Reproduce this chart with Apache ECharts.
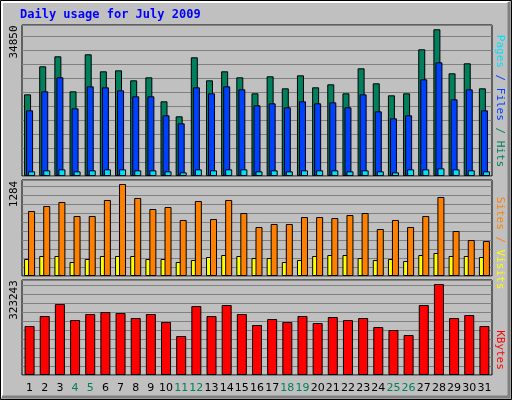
<!DOCTYPE html>
<html>
<head>
<meta charset="utf-8">
<script src="https://cdn.jsdelivr.net/npm/echarts@6/dist/echarts.min.js"></script>
<style>html,body{margin:0;padding:0;background:#c0c0c0}#chart{width:512px;height:400px}</style>
</head>
<body>
<div id="chart"></div>
<script>
// days of July 2009, weekends drawn in green
var days = ['1','2','3','4','5','6','7','8','9','10','11','12','13','14','15','16','17','18','19','20','21','22','23','24','25','26','27','28','29','30','31'];
var weekends = ['4','5','11','12','18','19','25','26'];

var hits   = [19404,26057,28433,20117,28908,24869,25106,22730,23443,17741,14177,28195,22730,24869,23443,19642,23681,20830,23918,21067,21780,19642,25582,22018,19166,19642,30096,34850,24394,26770,20830];
var files  = [15602,20117,23443,16078,21305,21067,20354,18929,18929,14414,12514,21067,19642,21305,20592,16790,17266,16315,17741,17266,17503,16315,19404,15365,13702,14414,22968,27007,18216,20592,15602];
var pages  = [1109,1346,1584,1109,1346,1584,1584,1346,1346,1109,871,1584,1346,1584,1584,1109,1346,1109,1346,1346,1346,1109,1346,1109,871,1584,1584,1822,1584,1346,1109];

var visits = [907,977,1033,837,837,1061,1284,1089,935,963,782,1047,795,1061,879,684,726,726,823,823,809,851,879,656,782,684,837,1103,628,502,488];
var sites  = [237,279,279,195,237,279,279,279,237,237,195,223,265,293,279,251,251,195,223,279,293,293,251,223,237,209,293,321,279,279,265];

var kbytes = [174048,209568,252192,195360,216672,223776,220224,202464,216672,188256,138528,245088,209568,248640,216672,177600,198912,188256,209568,184704,206016,195360,202464,170496,159840,142080,248640,323243,202464,213120,174048];

var myChart = echarts.init(document.getElementById('chart'));

function yAx(idx, max, interval) {
		return {
				gridIndex : idx, min : 0, max : max, interval : interval,
				axisLabel : {show : false}, axisLine : {show : false}, axisTick : {show : false},
				splitLine : {lineStyle : {color : '#808080', width : 1}}
		};
}
function xAx(idx, showLabel) {
		return {
				gridIndex : idx, type : 'category', data : days,
				axisLine : {show : false}, axisTick : {show : false},
				axisLabel : {
						show : showLabel, margin : 8, interval : 0,
						fontFamily : 'DejaVu Sans', fontSize : 11, color : '#000',
						formatter : function(v) {
								return weekends.indexOf(v) >= 0 ? '{w|' + v + '}' : v;
						},
						rich : {w : {color : '#00805c', fontFamily : 'DejaVu Sans', fontSize : 11}}
				}
		};
}
function bar(name, data, color, g, width, gap) {
		return {
				name : name, type : 'bar', data : data, xAxisIndex : g, yAxisIndex : g,
				barWidth : width, barGap : gap, animation : false,
				itemStyle : {color : color, borderColor : '#000', borderWidth : 1}
		};
}
function sideText(x, y, rot, rich, text) {
		return {
				type : 'text', x : x, y : y, rotation : rot, z : 10,
				style : {text : text, rich : rich, fontFamily : 'DejaVu Sans Mono', fontSize : 11, fill : '#000', align : 'center', verticalAlign : 'middle'}
		};
}

var gridStyle = {show : true, backgroundColor : '#c0c0c0', borderColor : '#000', borderWidth : 1};

var options = {
		backgroundColor : '#c0c0c0',
		animation : false,
		grid : [
				Object.assign({left : 22, width : 470, top : 25, height : 151}, gridStyle),
				Object.assign({left : 22, width : 470, top : 180, height : 96}, gridStyle),
				Object.assign({left : 22, width : 470, top : 280, height : 95}, gridStyle)
		],
		xAxis : [xAx(0, false), xAx(1, false), xAx(2, true)],
		yAxis : [yAx(0, 35870, 3326), yAx(1, 1340, 125.6), yAx(2, 337440, 31970)],
		series : [
				bar('Hits', hits, '#00805c', 0, 7, '-71%'),
				bar('Files', files, '#0040ff', 0, 7, '-71%'),
				bar('Pages', pages, '#00e0ff', 0, 7, '-71%'),
				bar('Sites', sites, '#ffff00', 1, 7, '-43%'),
				bar('Visits', visits, '#ff8000', 1, 7, '-43%'),
				bar('KBytes', kbytes, '#ff0000', 2, 10, '0%')
		],
		graphic : [
				{type : 'rect', z : -10, shape : {x : 0.5, y : 0.5, width : 511, height : 399}, style : {fill : '#c0c0c0', stroke : '#000'}},
				{type : 'polyline', z : -9, shape : {points : [[2, 397], [2, 2], [509, 2]]}, style : {stroke : '#fff', lineWidth : 2, fill : null}},
				{type : 'polyline', z : -9, shape : {points : [[509, 2], [509, 397], [2, 397]]}, style : {stroke : '#808080', lineWidth : 3, fill : null}},
				{type : 'text', x : 20, y : 9, z : 10, style : {text : 'Daily usage for July 2009', fontFamily : 'DejaVu Sans Mono', fontWeight : 'bold', fontSize : 12, fill : '#0000ff'}},
				sideText(14, 42, Math.PI / 2, {}, '34850'),
				sideText(14, 194, Math.PI / 2, {}, '1284'),
				sideText(14, 300, Math.PI / 2, {}, '323243'),
				sideText(500, 101, -Math.PI / 2,
						{p : {fill : '#00e0ff', fontFamily : 'DejaVu Sans Mono', fontSize : 11}, f : {fill : '#0040ff', fontFamily : 'DejaVu Sans Mono', fontSize : 11}, h : {fill : '#00805c', fontFamily : 'DejaVu Sans Mono', fontSize : 11}},
						'{p|Pages}{f| / Files}{h| / Hits}'),
				sideText(500, 243, -Math.PI / 2,
						{s : {fill : '#ff8000', fontFamily : 'DejaVu Sans Mono', fontSize : 11}, v : {fill : '#ffff00', fontFamily : 'DejaVu Sans Mono', fontSize : 11}},
						'{s|Sites}{s| / }{v|Visits}'),
				sideText(500, 350, -Math.PI / 2, {k : {fill : '#ff0000', fontFamily : 'DejaVu Sans Mono', fontSize : 11}}, '{k|KBytes}')
		]
};
myChart.setOption(options);
</script>
</body>
</html>
